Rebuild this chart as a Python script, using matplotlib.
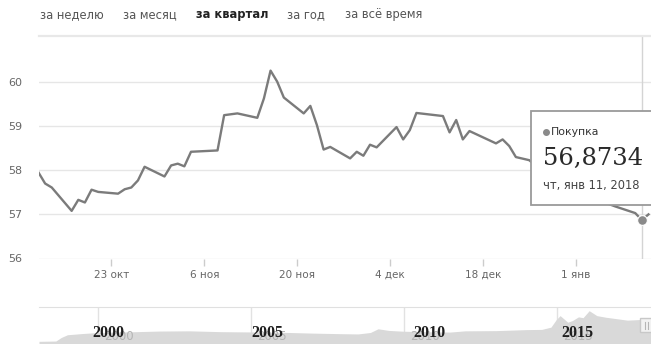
import pandas as pd
import matplotlib.pyplot as plt
import matplotlib.dates as mdates
from matplotlib.patches import Rectangle

W, H = 651, 344

# USD buy rate, quarter view
dates = pd.to_datetime([
    "2017-10-12", "2017-10-13", "2017-10-14", "2017-10-17", "2017-10-18",
    "2017-10-19", "2017-10-20", "2017-10-21", "2017-10-24", "2017-10-25",
    "2017-10-26", "2017-10-27", "2017-10-28", "2017-10-31", "2017-11-01",
    "2017-11-02", "2017-11-03", "2017-11-04", "2017-11-08", "2017-11-09",
    "2017-11-11", "2017-11-14", "2017-11-15", "2017-11-16", "2017-11-17",
    "2017-11-18", "2017-11-21", "2017-11-22", "2017-11-23", "2017-11-24",
    "2017-11-25", "2017-11-28", "2017-11-29", "2017-11-30", "2017-12-01",
    "2017-12-02", "2017-12-05", "2017-12-06", "2017-12-07", "2017-12-08",
    "2017-12-12", "2017-12-13", "2017-12-14", "2017-12-15", "2017-12-16",
    "2017-12-20", "2017-12-21", "2017-12-22", "2017-12-23", "2017-12-25",
    "2017-12-30", "2018-01-07", "2018-01-10", "2018-01-11", "2018-01-12",
])
rates = [
    57.95, 57.70, 57.61, 57.08, 57.33,
    57.27, 57.56, 57.51, 57.47, 57.57,
    57.61, 57.77, 58.08, 57.86, 58.11,
    58.15, 58.09, 58.42, 58.45, 59.25,
    59.29, 59.19, 59.63, 60.26, 60.01,
    59.65, 59.29, 59.46, 59.02, 58.47,
    58.53, 58.27, 58.42, 58.33, 58.58,
    58.52, 58.98, 58.70, 58.91, 59.30,
    59.23, 58.86, 59.14, 58.70, 58.89,
    58.61, 58.70, 58.55, 58.30, 58.23,
    57.62, 57.18, 57.03, 56.8734, 57.00,
]
hover_idx = 53
hover_label = "чт, янв 11, 2018"
series_name = "Покупка"

tick_dates = pd.to_datetime(["2017-10-23", "2017-11-06", "2017-11-20",
                             "2017-12-04", "2017-12-18", "2018-01-01"])
tick_labels = ["23 окт", "6 ноя", "20 ноя", "4 дек", "18 дек", "1 янв"]
y_ticks = [56, 57, 58, 59, 60]

periods = ["за неделю", "за месяц", "за квартал", "за год", "за всё время"]
period_x = [40, 123, 196, 287, 345]
active_period = "за квартал"

# whole history for the navigator strip
hist_years = [1998.07, 1998.4, 1998.62, 1998.8, 1999.0, 1999.5, 2000.0, 2001.0,
              2002.0, 2003.0, 2004.0, 2005.0, 2006.0, 2007.0, 2008.0, 2008.5,
              2008.9, 2009.15, 2009.5, 2010.0, 2011.0, 2011.5, 2012.0, 2013.0,
              2014.0, 2014.5, 2014.8, 2014.97, 2015.1, 2015.35, 2015.5, 2015.7,
              2015.85, 2016.05, 2016.3, 2016.6, 2017.0, 2017.3, 2017.7, 2018.07]
hist_values = [5.5, 5.9, 6.2, 15.0, 21.5, 24.5, 27.0, 28.5,
               30.5, 31.0, 29.0, 28.3, 27.5, 25.5, 24.0, 23.5,
               27.0, 36.0, 32.0, 30.0, 28.5, 28.0, 31.0, 31.5,
               34.0, 34.5, 40.0, 58.0, 68.0, 52.0, 56.0, 65.0,
               63.0, 80.0, 68.0, 64.0, 60.0, 57.0, 58.5, 57.0]
nav_years = [2000, 2005, 2010, 2015]
nav_label_x = [1999.8, 2005.0, 2010.29, 2015.13]


def px_box(x0, y0, x1, y1):
    return [x0 / W, 1 - y1 / H, (x1 - x0) / W, (y1 - y0) / H]


fig = plt.figure(figsize=(W / 100, H / 100), dpi=100)

# main chart
ax = fig.add_axes(px_box(38.5, 36, 651, 258.5))
x0 = mdates.date2num(dates[0])
ax.set_xlim(x0, x0 + 92.38)
ax.set_ylim(56, 61.045)
ax.plot(dates, rates, color="#7b7b7b", lw=1.7, solid_joinstyle="round", zorder=3)
ax.axvline(dates[hover_idx], color="#d4d4d4", lw=1, zorder=2)
ax.plot([dates[hover_idx]], [rates[hover_idx]], "o", color="#8a8a8a", ms=7,
        mec="white", mew=0.8, zorder=4)

ax.set_yticks(y_ticks)
ax.set_yticklabels([str(v) for v in y_ticks])
ax.grid(axis="y", color="#e6e6e6", lw=1)
ax.set_xticks(tick_dates)
ax.set_xticklabels(tick_labels)
ax.tick_params(axis="y", length=0, pad=12, labelsize=8, labelcolor="#666666")
ax.tick_params(axis="x", length=5, width=1, color="#cccccc", pad=3,
               labelsize=7.5, labelcolor="#666666")
for side in ["left", "right", "bottom"]:
    ax.spines[side].set_visible(False)
ax.spines["top"].set_color("#e8e8e8")
ax.spines["top"].set_linewidth(1.6)

# navigator
nav = fig.add_axes(px_box(39, 307, 651, 344))
nav.set_xlim(1998.07, 2018.07)
nav.set_ylim(-1, 89)
nav.fill_between(hist_years, hist_values, -1, color="#d9d9d9", lw=0, zorder=1)
for yr in nav_years:
    nav.axvline(yr, color="#e2e2e2", lw=1, zorder=0)
tr = nav.get_xaxis_transform()
for yr in nav_years:
    nav.text(yr + 0.2, 0.2, str(yr), transform=tr, fontsize=8.5,
             color="#b4b4b4", ha="left", va="center", zorder=2)
for yr, lx in zip(nav_years, nav_label_x):
    nav.text(lx, 0.29, str(yr), transform=tr, fontsize=11.5,
             family="Liberation Serif", weight="bold", color="#1e1e1e",
             ha="left", va="center", zorder=3)
nav.set_xticks([])
nav.set_yticks([])
for side in ["left", "right", "bottom"]:
    nav.spines[side].set_visible(False)
nav.spines["top"].set_color("#e0e0e0")
nav.patch.set_alpha(0)

# overlay in pixel coordinates: period tabs, tooltip, scroll handle
ov = fig.add_axes([0, 0, 1, 1], zorder=5)
ov.set_xlim(0, W)
ov.set_ylim(H, 0)
ov.axis("off")
ov.patch.set_alpha(0)

for name, px in zip(periods, period_x):
    bold = name == active_period
    ov.text(px, 14.5, name, fontsize=8.3, ha="left", va="center",
            color="#222222" if bold else "#555555",
            weight="bold" if bold else "normal")

ov.add_patch(Rectangle((531, 111), 130, 94, fc="white", ec="#9a9a9a",
                       lw=1.3, clip_on=False))
ov.plot([545.5], [132], "o", color="#8a8a8a", ms=4)
ov.text(551, 132, series_name, fontsize=7.8, color="#333333",
        ha="left", va="center")
ov.text(543, 158, f"{rates[hover_idx]:.4f}".replace(".", ","),
        family="DejaVu Serif", fontsize=17.5, color="#2a2a2a",
        ha="left", va="center")
ov.text(543, 186, hover_label, fontsize=8.3, color="#444444",
        ha="left", va="center")

ov.add_patch(Rectangle((640, 318), 12, 14, fc="#f2f2f2", ec="#c8c8c8",
                       lw=1, clip_on=False))
for hx in (644.5, 647.5):
    ov.plot([hx, hx], [321.5, 328.5], color="#b5b5b5", lw=0.8)

fig.savefig("out.png", dpi=100)
